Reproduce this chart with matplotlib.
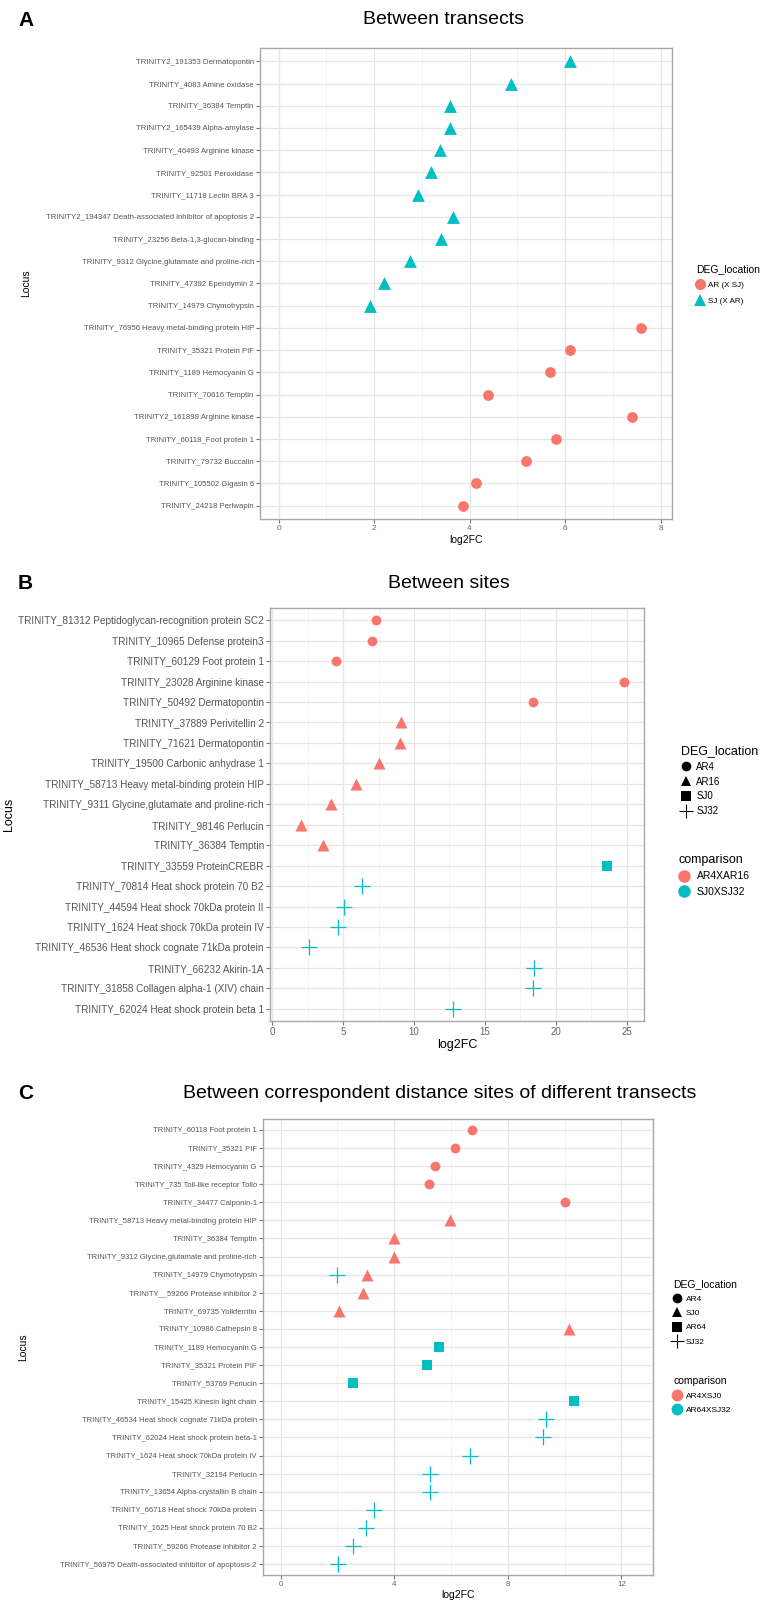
import numpy as np
import matplotlib
matplotlib.use("Agg")
import matplotlib.pyplot as plt
from matplotlib.lines import Line2D

plt.rcParams['font.family'] = ['Liberation Sans', 'DejaVu Sans']

RED = '#F8766D'
TEAL = '#00BFC4'

# ---- Panel A: between transects ----
a_loci = [
    "TRINITY2_191353 Dermatopontin", "TRINITY_4083 Amine oxidase", "TRINITY_36384 Temptin",
    "TRINITY2_165439 Alpha-amylase", "TRINITY_46493 Arginine kinase", "TRINITY_92501 Peroxidase",
    "TRINITY_11718 Lectin BRA 3", "TRINITY2_194347 Death-associated inhibitor of apoptosis 2",
    "TRINITY_23256 Beta-1,3-glucan-binding", "TRINITY_9312 Glycine,glutamate and proline-rich",
    "TRINITY_47392 Ependymin 2", "TRINITY_14979 Chymotrypsin",
    "TRINITY_76956 Heavy metal-binding protein HIP", "TRINITY_35321 Protein PIF",
    "TRINITY_1189 Hemocyanin G", "TRINITY_70616 Temptin", "TRINITY2_161899 Arginine kinase",
    "TRINITY_60118_Foot protein 1", "TRINITY_79732 Buccalin", "TRINITY_105502 Gigasin 6",
    "TRINITY_24218 Perlwapin",
]
a_fc = [6.10, 4.86, 3.58, 3.58, 3.38, 3.19, 2.92, 3.65, 3.40, 2.76, 2.20, 1.91,
        7.60, 6.10, 5.68, 4.39, 7.41, 5.80, 5.19, 4.14, 3.86]
a_group = ["SJ (X AR)"] * 12 + ["AR (X SJ)"] * 9
a_groups = ["AR (X SJ)", "SJ (X AR)"]

# ---- Panel B: between sites ----
b_loci = [
    "TRINITY_81312 Peptidoglycan-recognition protein SC2", "TRINITY_10965 Defense protein3",
    "TRINITY_60129 Foot protein 1", "TRINITY_23028 Arginine kinase", "TRINITY_50492 Dermatopontin",
    "TRINITY_37889 Perivitellin 2", "TRINITY_71621 Dermatopontin", "TRINITY_19500 Carbonic anhydrase 1",
    "TRINITY_58713 Heavy metal-binding protein HIP", "TRINITY_9311 Glycine,glutamate and proline-rich",
    "TRINITY_98146 Perlucin", "TRINITY_36384 Temptin", "TRINITY_33559 ProteinCREBR",
    "TRINITY_70814 Heat shock protein 70 B2", "TRINITY_44594 Heat shock 70kDa protein II",
    "TRINITY_1624 Heat shock 70kDa protein IV", "TRINITY_46536 Heat shock cognate 71kDa protein",
    "TRINITY_66232 Akirin-1A", "TRINITY_31858 Collagen alpha-1 (XIV) chain",
    "TRINITY_62024 Heat shock protein beta 1",
]
b_fc = [7.31, 7.03, 4.49, 24.81, 18.37, 9.05, 9.03, 7.50, 5.88, 4.12, 2.02, 3.60,
        23.59, 6.33, 5.06, 4.63, 2.56, 18.46, 18.37, 12.72]
b_site = ["AR4"] * 5 + ["AR16"] * 7 + ["SJ0"] + ["SJ32"] * 7
b_comp = ["AR4XAR16"] * 12 + ["SJ0XSJ32"] * 8
b_sites = ["AR4", "AR16", "SJ0", "SJ32"]
b_comps = ["AR4XAR16", "SJ0XSJ32"]

# ---- Panel C: between correspondent distance sites ----
c_loci = [
    "TRINITY_60118 Foot protein 1", "TRINITY_35321 PIF", "TRINITY_4329 Hemocyanin G",
    "TRINITY_735 Toll-like receptor Tollo", "TRINITY_34477 Calponin-1",
    "TRINITY_58713 Heavy metal-binding protein HIP", "TRINITY_36384 Temptin",
    "TRINITY_9312 Glycine,glutamate and proline-rich", "TRINITY_14979 Chymotrypsin",
    "TRINITY__59266 Protease inhibitor 2", "TRINITY_69735 Yolkferritin", "TRINITY_10986 Cathepsin 8",
    "TRINITY_1189 Hemocyanin G", "TRINITY_35321 Protein PIF", "TRINITY_53769 Perlucin",
    "TRINITY_15425 Kinesin light chain", "TRINITY_46534 Heat shock cognate 71kDa protein",
    "TRINITY_62024 Heat shock protein beta-1", "TRINITY_1624 Heat shock 70kDa protein IV",
    "TRINITY_32194 Perlucin", "TRINITY_13654 Alpha-crystallin B chain",
    "TRINITY_66718 Heat shock 70kDa protein", "TRINITY_1625 Heat shock protein 70 B2",
    "TRINITY_59266 Protease inhibitor 2", "TRINITY_56975 Death-associated inhibitor of apoptosis 2",
]
# one extra point: Chymotrypsin also appears for SJ32
c_point_locus = c_loci + ["TRINITY_14979 Chymotrypsin"]
c_fc = [6.74, 6.13, 5.45, 5.22, 10.01, 5.98, 3.98, 3.98, 3.04, 2.91, 2.07, 10.16,
        5.57, 5.17, 2.55, 10.34, 9.34, 9.25, 6.66, 5.27, 5.27, 3.28, 3.02, 2.54, 2.02,
        1.98]
c_site = ["AR4"] * 5 + ["SJ0"] * 7 + ["AR64"] * 4 + ["SJ32"] * 9 + ["SJ32"]
c_comp = ["AR4XSJ0"] * 12 + ["AR64XSJ32"] * 13 + ["AR64XSJ32"]
c_sites = ["AR4", "SJ0", "AR64", "SJ32"]
c_comps = ["AR4XSJ0", "AR64XSJ32"]

W, H = 762, 1601
fig = plt.figure(figsize=(W / 100, H / 100), dpi=100)

# ggplot shape order: filled circle, triangle, square, plus
SHAPES = ['o', '^', 's', '+']
SIZE = {'o': 50, '^': 75, 's': 55, '+': 140}


def px_axes(left, top, right, bottom):
    return fig.add_axes([left / W, 1 - bottom / H, (right - left) / W, (bottom - top) / H])


def style_axes(ax, loci, xlim, major, minor, tick_fs, xtick_fs):
    n = len(loci)
    ax.set_ylim(n - 1 + 0.6, -0.6)
    ax.set_xlim(*xlim)
    ax.set_yticks(range(n))
    ax.set_yticklabels(loci, fontsize=tick_fs, color='#555555')
    ax.set_xticks(major)
    ax.set_xticks(minor, minor=True)
    ax.tick_params(axis='x', labelsize=xtick_fs, labelcolor='#666666')
    ax.tick_params(which='major', length=3, width=0.8, color='#777777', pad=1.5)
    ax.tick_params(which='minor', length=0)
    ax.grid(True, which='major', color='#E6E6E6', linewidth=0.9, zorder=0)
    ax.grid(True, which='minor', axis='x', color='#EEEEEE', linewidth=0.5, zorder=0)
    ax.set_axisbelow(True)
    for sp in ax.spines.values():
        sp.set_color('#A8A8A8')
        sp.set_linewidth(1.0)


def draw_points(ax, loci, point_loci, fc, site, comp, sites, comps):
    pos = {l: i for i, l in enumerate(loci)}
    for cp, col in zip(comps, [RED, TEAL]):
        for st, mk in zip(sites, SHAPES):
            idx = [i for i in range(len(fc)) if comp[i] == cp and site[i] == st]
            if not idx:
                continue
            kw = dict(linewidths=0.9) if mk == '+' else dict(linewidths=0)
            ax.scatter([fc[i] for i in idx], [pos[point_loci[i]] for i in idx],
                       c=col, marker=mk, s=SIZE[mk], zorder=3, **kw)


def shape_handles(sites, ms):
    hs = []
    for st, mk in zip(sites, SHAPES):
        if mk == '+':
            hs.append(Line2D([], [], marker='+', color='black', ls='', markersize=ms * 1.45,
                             markeredgewidth=0.8))
        else:
            hs.append(Line2D([], [], marker=mk, color='black', ls='', markersize=ms,
                             markeredgewidth=0))
    return hs


# ---------- A ----------
axA = px_axes(260, 48, 672, 519)
style_axes(axA, a_loci, (-0.39, 8.24), [0, 2, 4, 6, 8], [1, 3, 5, 7], 5.6, 6)
a_pos = {l: i for i, l in enumerate(a_loci)}
for g, col, mk, s in [("AR (X SJ)", RED, 'o', 60), ("SJ (X AR)", TEAL, '^', 85)]:
    idx = [i for i, gg in enumerate(a_group) if gg == g]
    axA.scatter([a_fc[i] for i in idx], [a_pos[a_loci[i]] for i in idx],
                c=col, marker=mk, s=s, linewidths=0, zorder=3)
axA.set_xlabel("log2FC", fontsize=7.5, labelpad=2)
axA.set_ylabel("Locus", fontsize=7.5)
axA.yaxis.set_label_coords((31 - 260) / 412, 0.5)
hA = [Line2D([], [], marker='o', color=RED, ls='', markersize=8, markeredgewidth=0),
      Line2D([], [], marker='^', color=TEAL, ls='', markersize=8.5, markeredgewidth=0)]
axA.legend(hA, a_groups, title="DEG_location", loc='upper left',
           bbox_to_anchor=(692 / W, 1 - 260 / H), bbox_transform=fig.transFigure,
           frameon=False, fontsize=5.8, title_fontsize=7.5, handlelength=1.0,
           handletextpad=0.5, labelspacing=0.95, alignment='left', borderpad=0)
fig.text(18 / W, 1 - 20 / H, "A", fontsize=15, fontweight='bold', va='center', ha='left')
fig.text(443 / W, 1 - 20 / H, "Between transects", fontsize=14, va='center', ha='center')

# ---------- B ----------
axB = px_axes(270, 608, 644, 1021)
style_axes(axB, b_loci, (-0.16, 26.22), [0, 5, 10, 15, 20, 25],
           [2.5, 7.5, 12.5, 17.5, 22.5], 7.2, 7)
draw_points(axB, b_loci, b_loci, b_fc, b_site, b_comp, b_sites, b_comps)
axB.set_xlabel("log2FC", fontsize=9, labelpad=1)
axB.set_ylabel("Locus", fontsize=9, labelpad=2)
legB1 = axB.legend(shape_handles(b_sites, 7), b_sites, title="DEG_location", loc='upper left',
                   bbox_to_anchor=(676 / W, 1 - 740 / H), bbox_transform=fig.transFigure,
                   frameon=False, fontsize=7, title_fontsize=9, handlelength=1.0,
                   handletextpad=0.6, labelspacing=0.5, alignment='left', borderpad=0)
axB.add_artist(legB1)
hB2 = [Line2D([], [], marker='o', color=c, ls='', markersize=9, markeredgewidth=0)
       for c in [RED, TEAL]]
axB.legend(hB2, b_comps, title="comparison", loc='upper left',
           bbox_to_anchor=(673 / W, 1 - 849 / H), bbox_transform=fig.transFigure,
           frameon=False, fontsize=7.5, title_fontsize=9, handlelength=1.2,
           handletextpad=0.6, labelspacing=0.5, alignment='left', borderpad=0)
fig.text(18 / W, 1 - 583 / H, "B", fontsize=15, fontweight='bold', va='center', ha='left')
fig.text(449 / W, 1 - 583 / H, "Between sites", fontsize=14, va='center', ha='center')

# ---------- C ----------
axC = px_axes(263, 1119, 653, 1575)
style_axes(axC, c_loci, (-0.62, 13.11), [0, 4, 8, 12], [2, 6, 10], 5.5, 5.8)
draw_points(axC, c_loci, c_point_locus, c_fc, c_site, c_comp, c_sites, c_comps)
axC.set_xlabel("log2FC", fontsize=7.5, labelpad=1)
axC.set_ylabel("Locus", fontsize=7.5)
axC.yaxis.set_label_coords((28 - 263) / 390, 0.5)
legC1 = axC.legend(shape_handles(c_sites, 7), c_sites, title="DEG_location", loc='upper left',
                   bbox_to_anchor=(669 / W, 1 - 1275 / H), bbox_transform=fig.transFigure,
                   frameon=False, fontsize=6, title_fontsize=7.5, handlelength=1.0,
                   handletextpad=0.5, labelspacing=0.75, alignment='left', borderpad=0)
axC.add_artist(legC1)
hC2 = [Line2D([], [], marker='o', color=c, ls='', markersize=8.5, markeredgewidth=0)
       for c in [RED, TEAL]]
axC.legend(hC2, c_comps, title="comparison", loc='upper left',
           bbox_to_anchor=(669 / W, 1 - 1372 / H), bbox_transform=fig.transFigure,
           frameon=False, fontsize=6, title_fontsize=7.5, handlelength=1.0,
           handletextpad=0.5, labelspacing=0.7, alignment='left', borderpad=0)
fig.text(18 / W, 1 - 1093 / H, "C", fontsize=15, fontweight='bold', va='center', ha='left')
fig.text(440 / W, 1 - 1093 / H, "Between correspondent distance sites of different transects",
         fontsize=14, va='center', ha='center')

fig.savefig("out.png", dpi=100, facecolor='white')
